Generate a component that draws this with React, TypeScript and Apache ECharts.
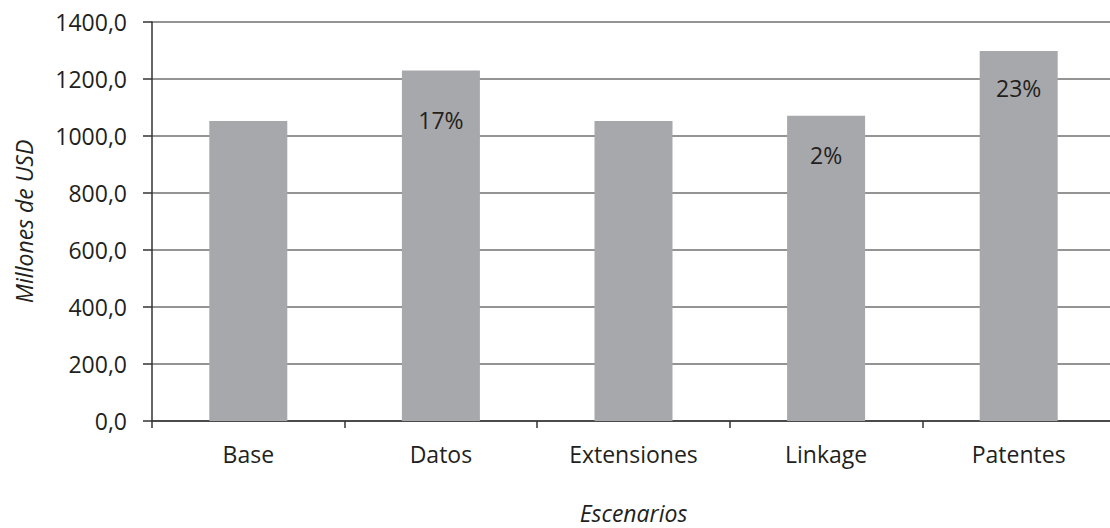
import React, { useEffect, useRef } from "react";
import * as echarts from "echarts";

const categories = ["Base", "Datos", "Extensiones", "Linkage", "Patentes"];
const values = [1053, 1230, 1053, 1071, 1298];
const pctLabels = ["", "17%", "", "2%", "23%"];
const yTicks = [0, 200, 400, 600, 800, 1000, 1200, 1400];

const FONT = "Open Sans";
const TEXT = "#231f20";

export default function App() {
  const ref = useRef<HTMLDivElement>(null);
  useEffect(() => {
    if (!ref.current) return;
    const chart = echarts.init(ref.current, null, { renderer: "svg" });
    const labelGap: Record<number, number> = { 1: 38, 3: 28, 4: 25 };
    chart.setOption({
      animation: false,
      backgroundColor: "#ffffff",
      grid: { left: 152, top: 22, right: -5, bottom: 107, containLabel: false, outerBoundsMode: "none" },
      xAxis: {
        type: "category",
        data: categories,
        boundaryGap: true,
        name: "Escenarios",
        nameLocation: "middle",
        nameGap: 80,
        nameTextStyle: { fontFamily: FONT, fontStyle: "italic", fontSize: 23, color: TEXT },
        axisLine: { show: true, lineStyle: { color: "#333333", width: 1.5 } },
        axisTick: { show: true, alignWithLabel: false, length: 7, lineStyle: { color: "#333333", width: 1.5 } },
        axisLabel: { fontFamily: FONT, fontSize: 23, color: TEXT, margin: 21 },
      },
      yAxis: {
        type: "value",
        min: 0,
        max: 1400,
        interval: 200,
        name: "Millones de USD",
        nameLocation: "middle",
        nameGap: 117,
        nameRotate: 90,
        nameTextStyle: { fontFamily: FONT, fontStyle: "italic", fontSize: 23, color: TEXT },
        axisLine: { show: true, lineStyle: { color: "#333333", width: 1.5 } },
        axisTick: { show: true, inside: false, length: 9, lineStyle: { color: "#333333", width: 1.5 } },
        splitLine: { show: true, lineStyle: { color: "#707070", width: 1.5 } },
        axisLabel: {
          fontFamily: FONT,
          fontSize: 23,
          color: TEXT,
          margin: 25,
          formatter: (v: number) => (yTicks.includes(v) ? v.toFixed(1).replace(".", ",") : ""),
        },
      },
      series: [
        {
          type: "bar",
          barWidth: 78,
          itemStyle: { color: "#a7a8ab" },
          data: values.map((v, i) => ({
            value: v,
            label: {
              show: pctLabels[i] !== "",
              position: "insideTop",
              distance: labelGap[i] ?? 30,
              formatter: pctLabels[i],
              fontFamily: FONT,
              fontSize: 23,
              color: TEXT,
            },
          })),
        },
      ],
    });
    return () => chart.dispose();
  }, []);
  return <div ref={ref} style={{ width: 1110, height: 528, position: "absolute", left: 0, top: 0 }} />;
}
